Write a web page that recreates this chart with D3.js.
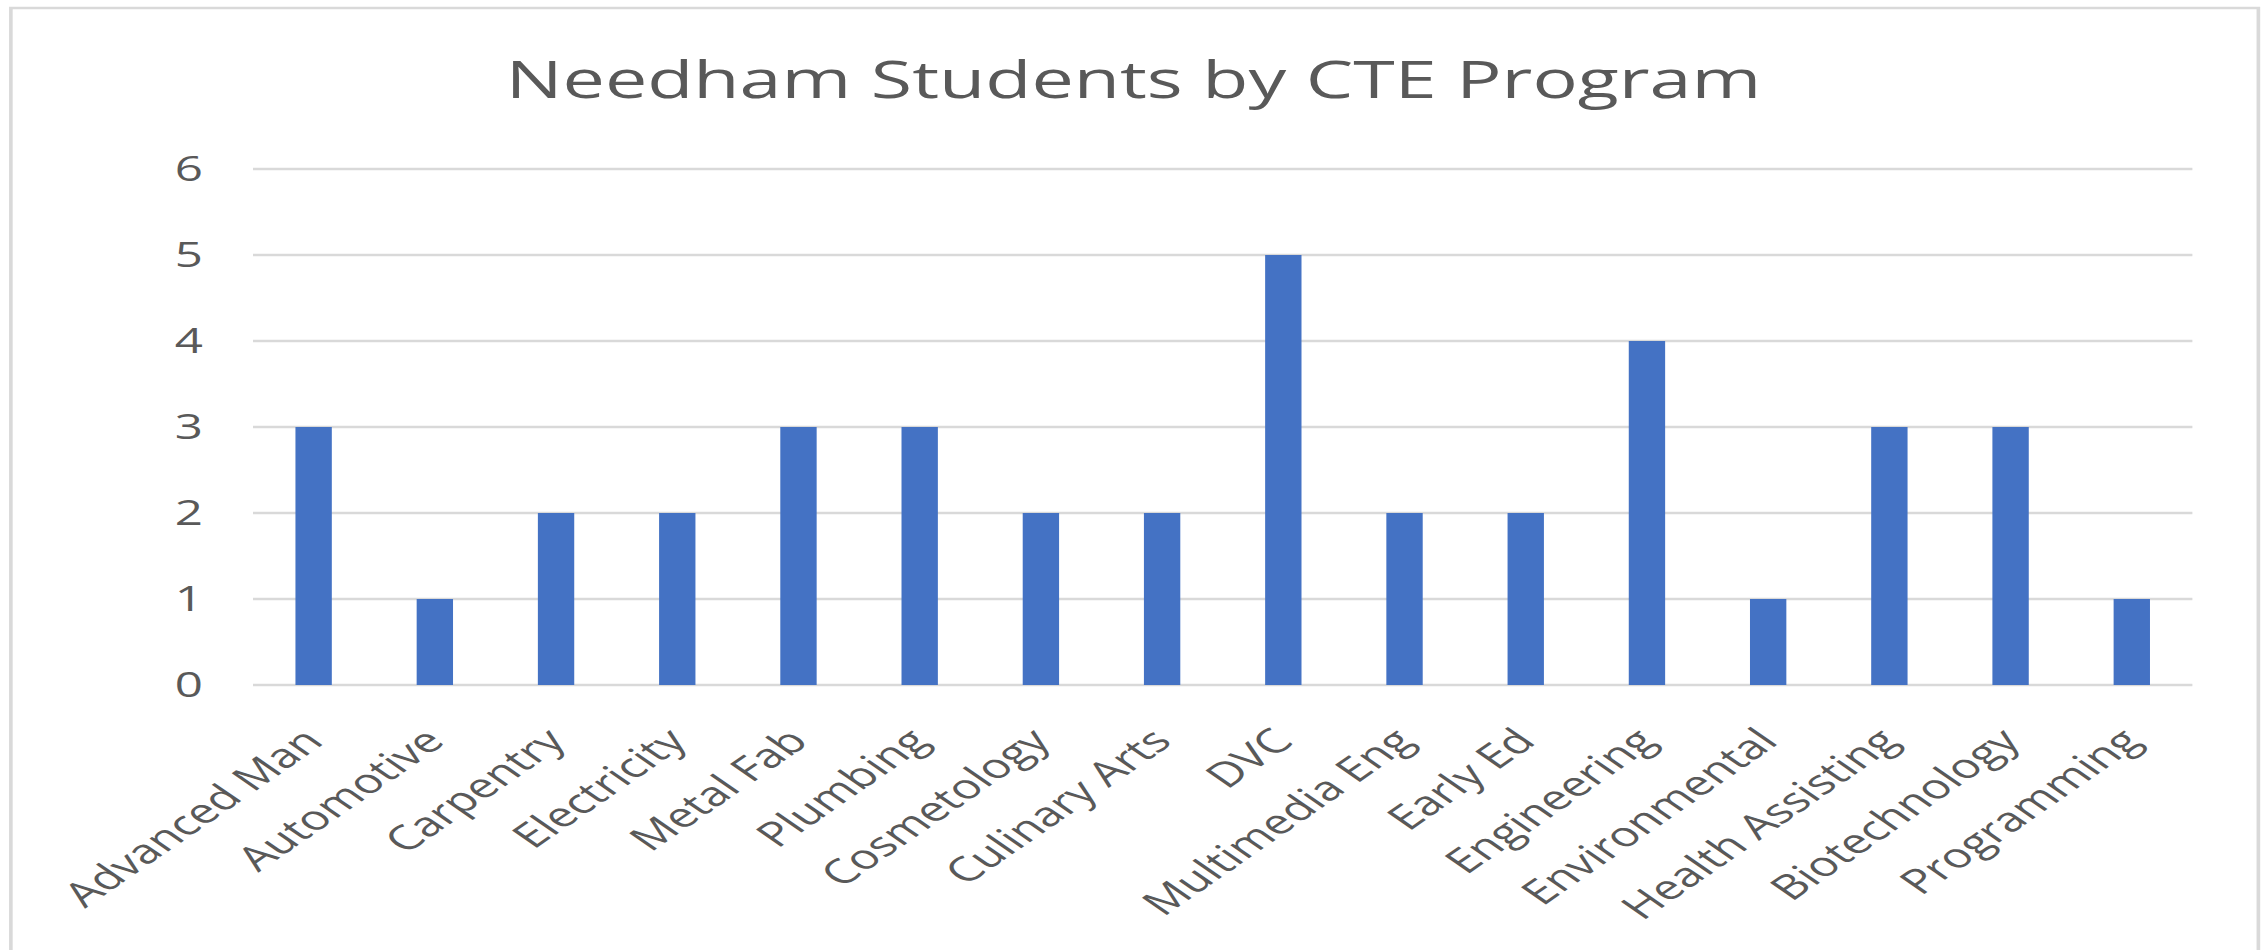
<!DOCTYPE html>
<html>
<head>
    <meta charset="utf-8">
    <title>Needham Students by CTE Program</title>
    <script src="https://d3js.org/d3.v7.min.js"></script>
    <style>
        body { margin: 0; background: white; }
        svg { display: block; }
        text { font-family: "Open Sans", sans-serif; fill: #595959; }
    </style>
</head>
<body>
<script>
    let programs = ["Advanced Man", "Automotive", "Carpentry", "Electricity", "Metal Fab", "Plumbing",
        "Cosmetology", "Culinary Arts", "DVC", "Multimedia Eng", "Early Ed", "Engineering",
        "Environmental", "Health Assisting", "Biotechnology", "Programming"];
    let students = [3, 1, 2, 2, 3, 3, 2, 2, 5, 2, 2, 4, 1, 3, 3, 1];
    let yTicks = [0, 1, 2, 3, 4, 5, 6];

    // the original picture is stretched sideways, so draw in a narrower
    // box and let the viewBox widen it
    let width = 2267, height = 950, stretch = 1.45;
    let vw = width / stretch;
    let plot = {left: 174.5, right: 1512, top: 169, bottom: 685};

    let svg = d3.select("body").append("svg")
        .attr("width", width)
        .attr("height", height)
        .attr("viewBox", "0 0 " + vw + " " + height)
        .attr("preserveAspectRatio", "none");

    // chart frame
    svg.append("rect")
        .attr("x", 7.5).attr("y", 8)
        .attr("width", 1550).attr("height", 1000)
        .attr("fill", "white")
        .attr("stroke", "#d9d9d9")
        .attr("stroke-width", 2.5);

    svg.append("text")
        .attr("x", vw / 2)
        .attr("y", 98)
        .attr("text-anchor", "middle")
        .style("font-size", "52px")
        .text("Needham Students by CTE Program");

    let x = d3.scaleBand()
        .domain(programs)
        .range([plot.left, plot.right])
        .paddingInner(0.7)
        .paddingOuter(0.35);

    let y = d3.scaleLinear()
        .domain([0, 6])
        .range([plot.bottom, plot.top]);

    // gridlines
    svg.append("g")
        .selectAll("line")
        .data(yTicks)
        .join("line")
            .attr("x1", plot.left)
            .attr("x2", plot.right)
            .attr("y1", d => y(d))
            .attr("y2", d => y(d))
            .attr("stroke", "#d9d9d9")
            .attr("stroke-width", 2.5);

    // y labels
    svg.append("g")
        .selectAll("text")
        .data(yTicks)
        .join("text")
            .attr("x", 140)
            .attr("y", d => y(d))
            .attr("dy", "0.36em")
            .attr("text-anchor", "end")
            .style("font-size", "34px")
            .text(d => d);

    // bars
    svg.append("g")
        .selectAll("rect")
        .data(students)
        .join("rect")
            .attr("x", (d, i) => x(programs[i]))
            .attr("y", d => y(d))
            .attr("width", x.bandwidth())
            .attr("height", d => y(0) - y(d))
            .attr("fill", "#4472c4");

    // x labels
    svg.append("g")
        .selectAll("text")
        .data(programs)
        .join("text")
            .attr("transform", d => "translate(" + (x(d) + x.bandwidth() / 2 + 8) + "," + (plot.bottom + 58) + ") rotate(-45)")
            .attr("text-anchor", "end")
            .style("font-size", "34px")
            .text(d => d);
</script>
</body>
</html>
